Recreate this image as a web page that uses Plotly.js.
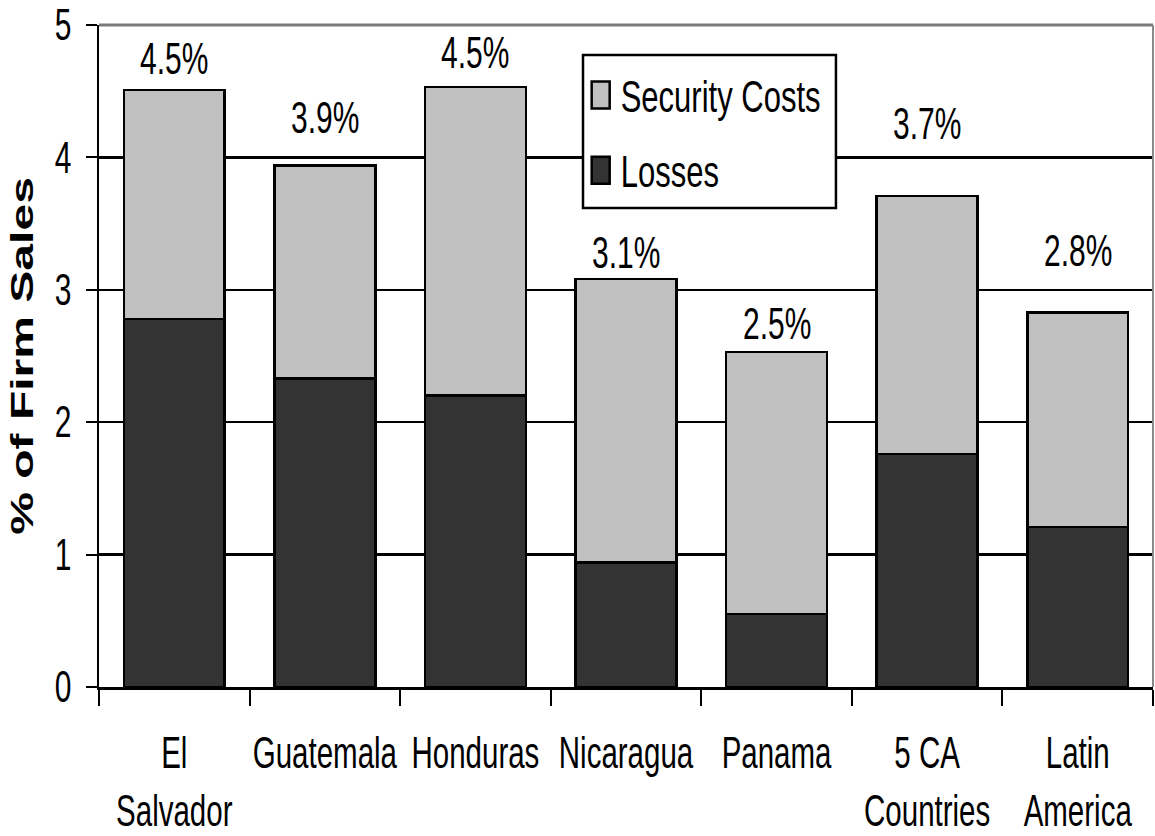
<!DOCTYPE html>
<html>
<head>
<meta charset="utf-8">
<script src="https://cdn.plot.ly/plotly-3.0.1.min.js"></script>
<style>
  html, body { margin: 0; padding: 0; background: #ffffff; }
  #chart { width: 1155px; height: 836px; }
</style>
</head>
<body>
<div id="chart"></div>
<script>
// Costs of crime to firms, as a share of firm sales
const categories = ['El<br>Salvador', 'Guatemala', 'Honduras', 'Nicaragua', 'Panama', '5 CA<br>Countries', 'Latin<br>America'];
const losses = [2.78, 2.33, 2.20, 0.94, 0.55, 1.76, 1.21];
const securityCosts = [1.73, 1.61, 2.33, 2.14, 1.98, 1.95, 1.62];
const yTicks = [0, 1, 2, 3, 4, 5];

// total of each stacked bar and its printed label
const totals = losses.map((v, i) => +(v + securityCosts[i]).toFixed(2));
const totalLabels = totals.map(t => t.toFixed(1) + '%');

// pixel lift of each total label above its bar
const labelLift = [31, 48, 35, 27, 28.5, 72, 62];

const FONT = 'Liberation Sans, Arial, Helvetica, sans-serif';
const DARK = '#333333';
const LIGHT = '#c0c0c0';

const data = [
  {
    type: 'bar', name: 'Losses', x: categories, y: losses,
    legendgroup: 'losses', legendrank: 2,
    marker: { color: DARK, line: { color: '#000000', width: 2.5 } }
  },
  {
    type: 'bar', name: 'Security Costs', x: categories, y: securityCosts,
    legendgroup: 'security', legendrank: 1,
    marker: { color: LIGHT, line: { color: '#000000', width: 2.5 } }
  }
];

const annotations = categories.map((c, i) => ({
  x: c, y: totals[i], xref: 'x', yref: 'y',
  text: totalLabels[i], showarrow: false,
  yanchor: 'middle', xanchor: 'center', yshift: labelLift[i],
  font: { family: FONT, size: 30, color: '#000000' }
}));

const layout = {
  width: 1155, height: 836,
  margin: { l: 99, r: 2, t: 25, b: 149, pad: 0 },
  paper_bgcolor: '#ffffff', plot_bgcolor: '#ffffff',
  barmode: 'stack', bargap: 0.33,
  showlegend: true,
  legend: {
    x: 0.457, y: 0.9345, xanchor: 'left', yanchor: 'top',
    bgcolor: 'rgba(0,0,0,0)', borderwidth: 0,
    traceorder: 'grouped', tracegroupgap: 32,
    font: { family: FONT, size: 31, color: '#000000' }
  },
  xaxis: {
    type: 'category', range: [-0.5, 6.5], fixedrange: true,
    showline: true, linecolor: '#000000', linewidth: 2.5,
    ticks: 'outside', tickson: 'boundaries', ticklen: 16, tickwidth: 2, tickcolor: '#000000',
    tickangle: 0, ticklabelstandoff: 29,
    tickfont: { family: FONT, size: 29.5, color: '#000000' },
    showgrid: false, zeroline: false
  },
  yaxis: {
    range: [0, 5], fixedrange: true,
    tickmode: 'array', tickvals: yTicks, ticktext: yTicks.map(String),
    showline: true, linecolor: '#000000', linewidth: 2.5,
    ticks: 'outside', ticklen: 11, tickwidth: 2, tickcolor: '#000000',
    ticklabelstandoff: 8,
    tickfont: { family: FONT, size: 30, color: '#000000' },
    showgrid: true, gridcolor: '#000000', gridwidth: 2.5,
    zeroline: false,
    title: {
      text: '% of Firm Sales', standoff: 12,
      font: { family: FONT, size: 31, color: '#000000', weight: 700 }
    }
  },
  annotations: annotations,
  shapes: [
    // legend frame
    { type: 'rect', xref: 'paper', yref: 'paper', x0: 0.4592, x1: 0.6992, y0: 0.7236, y1: 0.9547,
      fillcolor: '#ffffff', line: { color: '#000000', width: 2.5 }, layer: 'above' },
    // grey plot-area edges at top and right
    { type: 'line', xref: 'paper', yref: 'paper', x0: 0, x1: 1, y0: 1, y1: 1,
      line: { color: '#7a7a7a', width: 3 }, layer: 'above' },
    { type: 'line', xref: 'paper', yref: 'paper', x0: 1, x1: 1, y0: 0, y1: 1,
      line: { color: '#8a8a8a', width: 2 }, layer: 'above' }
  ]
};

// tall, condensed-looking lettering: stretch every text vertically about its own box
function stretchText(gd) {
  gd.querySelectorAll('text').forEach(el => {
    if (!el.textContent.trim()) return;
    const r = el.getBoundingClientRect();
    if (!r.height) return;
    const inv = el.parentNode.getScreenCTM().inverse();
    const isTitle = el.classList.contains('ytitle');
    const isXTick = !!el.closest('.xtick');
    const k = isTitle ? 1.55 : (isXTick ? 1.52 : 1.45);
    const pt = new DOMPoint(r.left + r.width / 2, isXTick ? r.top : r.top + r.height / 2).matrixTransform(inv);
    const prev = el.getAttribute('transform') || '';
    el.setAttribute('transform',
      'translate(' + pt.x + ' ' + pt.y + ') scale(1 ' + k + ') translate(' + (-pt.x) + ' ' + (-pt.y) + ') ' + prev);
  });
  gd.querySelectorAll('.legendpoints path').forEach(p => {
    const prev = p.getAttribute('transform') || '';
    p.setAttribute('transform', prev + ' scale(1.5 2.25)');
    p.style.vectorEffect = 'non-scaling-stroke';
  });
}

const gd = document.getElementById('chart');
Plotly.newPlot(gd, data, layout, { staticPlot: true, displayModeBar: false }).then(stretchText);
</script>
</body>
</html>
